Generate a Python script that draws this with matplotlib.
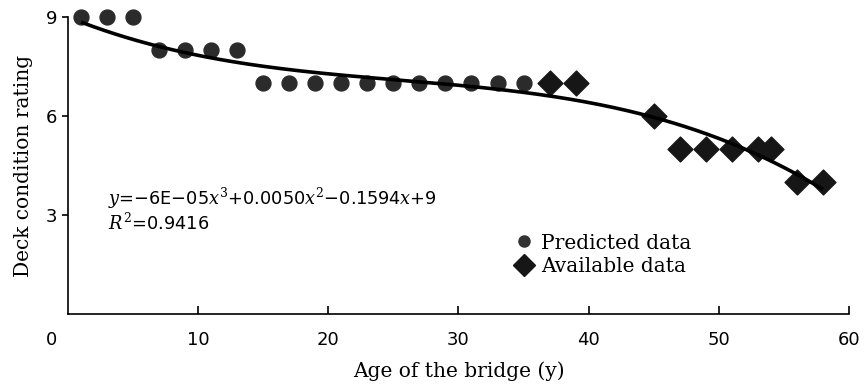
import numpy as np
import matplotlib.pyplot as plt
from matplotlib.lines import Line2D
import matplotlib.transforms as mtransforms

# Predicted data (circles)
pred_age = [1, 3, 5, 7, 9, 11, 13, 15, 17, 19, 21, 23, 25, 27, 29, 31, 33, 35]
pred_rating = [9, 9, 9, 8, 8, 8, 8, 7, 7, 7, 7, 7, 7, 7, 7, 7, 7, 7]

# Available data (diamonds)
avail_age = [37, 39, 45, 47, 49, 51, 53, 54, 56, 58]
avail_rating = [7, 7, 6, 5, 5, 5, 5, 5, 4, 4]

x_ticks = [0, 10, 20, 30, 40, 50, 60]
y_ticks = [3, 6, 9]

plt.rcParams['mathtext.fontset'] = 'dejavuserif'

fig = plt.figure(figsize=(8.64, 3.86), dpi=100)
ax = fig.add_axes([0.0787, 0.1865, 0.9039, 0.7695])

# cubic trendline with intercept fixed at 9 (as in the equation)
all_x = np.array(pred_age + avail_age, dtype=float)
all_y = np.array(pred_rating + avail_rating, dtype=float)
A = np.vstack([all_x**3, all_x**2, all_x]).T
coef, *_ = np.linalg.lstsq(A, all_y - 9, rcond=None)
xs = np.linspace(min(all_x), max(all_x), 200)
ys = coef[0]*xs**3 + coef[1]*xs**2 + coef[2]*xs + 9

ax.scatter(pred_age, pred_rating, s=115, marker='o', color='#2b2b2b', zorder=3, clip_on=False)
ax.scatter(avail_age, avail_rating, s=160, marker='D', color='#161616', zorder=3, clip_on=False)
ax.plot(xs, ys, color='black', lw=2.6, zorder=4, solid_capstyle='butt')

ax.set_xlim(0, 60)
ax.set_ylim(0, 9)
ax.set_xticks(x_ticks)
ax.set_yticks(y_ticks)
ax.spines['top'].set_visible(False)
ax.spines['right'].set_visible(False)
for s in ['left', 'bottom']:
    ax.spines[s].set_linewidth(1.2)
ax.tick_params(axis='x', direction='in', length=6, width=1.2, pad=12, labelsize=13)
ax.tick_params(axis='y', direction='out', length=4, width=1.2, pad=4, labelsize=13)
# the "0" label sits left of the axis origin
lbl0 = ax.get_xticklabels()[0]
lbl0.set_transform(lbl0.get_transform() + mtransforms.ScaledTranslation(-0.16, 0, fig.dpi_scale_trans))
ax.xaxis.get_major_ticks()[0].tick1line.set_visible(False)

ax.set_xlabel('Age of the bridge (y)', family='DejaVu Serif', fontsize=14.5, labelpad=9)
ax.set_ylabel('Deck condition rating', family='DejaVu Serif', fontsize=14.5, labelpad=9)

ax.text(3.1, 3.3, r'$y$=−6E−05$x^3$+0.0050$x^2$−0.1594$x$+9', fontsize=12.8)
ax.text(3.1, 2.55, r'$R^2$=0.9416', fontsize=12.8)

handles = [
    Line2D([], [], marker='o', ls='none', color='#333333', markersize=8),
    Line2D([], [], marker='D', ls='none', color='#161616', markersize=11),
]
ax.legend(handles, ['Predicted data', 'Available data'], loc='upper left',
          bbox_to_anchor=(0.597, 0.395), bbox_transform=fig.transFigure,
          frameon=False, handlelength=0.8, handletextpad=0.45, labelspacing=0.2,
          prop={'family': 'DejaVu Serif', 'size': 14.5}, borderaxespad=0, borderpad=0)

fig.savefig('out.png', dpi=100)
